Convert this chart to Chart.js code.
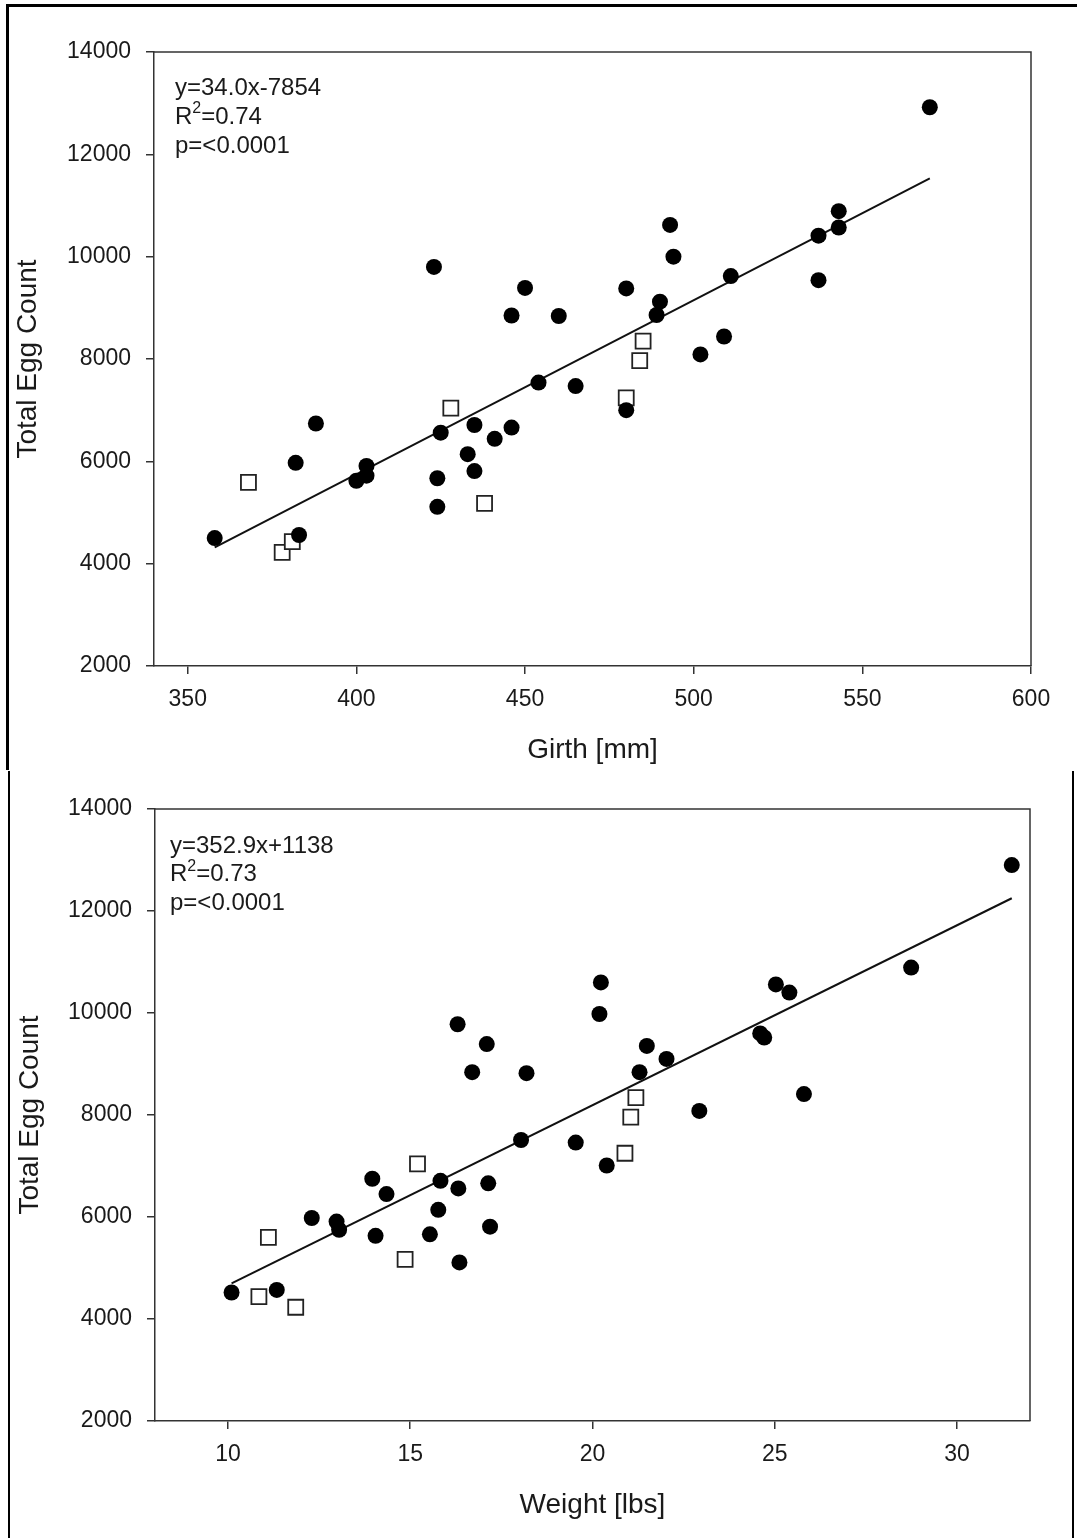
<!DOCTYPE html>
<html><head><meta charset="utf-8">
<script src="https://cdn.jsdelivr.net/npm/chart.js@4.4.1/dist/chart.umd.min.js"></script>
<style>
html,body{margin:0;padding:0;background:#fff;width:1077px;height:1538px;overflow:hidden;}
canvas{position:absolute;left:0;}
#c1{top:0;}
#c2{top:770px;}
.f1{position:absolute;left:6px;top:4px;width:1100px;height:763px;border-top:3px solid #000;border-left:3px solid #000;}
.f2{position:absolute;left:8px;top:771px;width:1062px;height:800px;border-left:2px solid #000;border-right:2px solid #000;}
</style></head>
<body>
<div class="f1"></div><div class="f2"></div>
<canvas id="c1" width="1077" height="770"></canvas>
<canvas id="c2" width="1077" height="768"></canvas>
<script>
// ---- data ----
const eggTicks = [2000,4000,6000,8000,10000,12000,14000];
const girthTicks = [350,400,450,500,550,600];
const weightTicks = [10,15,20,25,30];

const girthFilled     = [358,383,382,388,400,403,403,423,425,424,424,435,441,446,433,435,446,450,460,454,465,480,480,493,494,490,489,502,509,511,570,543,543,537,537];
const girthFilledEggs = [4500,4560,5970,6740,5620,5910,5720,9800,6560,5670,5110,6710,6440,6660,6140,5810,8850,9390,8840,7540,7470,9380,7000,10620,10000,9120,8860,8090,8440,9620,12920,10890,10570,10410,9540];
const girthOpen       = [378,381,368,428,438,480,484,485];
const girthOpenEggs   = [4220,4430,5590,7040,5180,7240,7970,8350];
const girthFitX       = [358,570];
const girthFitY       = [4320,11530];

const weightFilled     = [10.1,11.34,12.3,12.98,13.05,13.96,14.35,14.05,15.83,15.77,15.54,16.32,17.14,17.19,16.35,16.3,17.1,16.7,18.19,18.04,19.54,20.39,20.23,20.19,21.49,22.03,21.29,22.93,31.5,28.74,25.03,25.4,24.6,24.71,25.8];
const weightFilledEggs = [4520,4570,5980,5910,5750,6750,6450,5630,6710,6140,5660,6560,6660,5810,5110,9780,9390,8840,8820,7510,7460,7010,10600,9980,9355,9100,8840,8080,12900,10890,10560,10400,9600,9520,8410];
const weightOpen       = [10.85,11.86,11.11,14.86,15.2,20.89,21.05,21.19];
const weightOpenEggs   = [4440,4230,5600,5170,7040,7250,7960,8340];
const weightFitX       = [10.1,31.5];
const weightFitY       = [4700,12250];

// ---- helpers ----
const FONT = '"Liberation Sans", Arial, sans-serif';
const TXT = '#1a1a1a';
const AX = '#333';
const pts = (xs, ys) => xs.map((x, i) => ({x: x, y: ys[i]}));

function annotPlugin(lines, dx, dy, gap) {
  return {
    id: 'annot',
    afterDraw(chart) {
      const ctx = chart.ctx, a = chart.chartArea, f = 24;
      ctx.save();
      ctx.strokeStyle = AX; ctx.lineWidth = 1.5;
      ctx.beginPath();
      ctx.moveTo(a.left, a.top); ctx.lineTo(a.right, a.top); ctx.lineTo(a.right, a.bottom);
      ctx.stroke();
      ctx.fillStyle = TXT; ctx.textBaseline = 'middle'; ctx.textAlign = 'left';
      lines.forEach((ln, i) => {
        let x = a.left + dx; const y = a.top + dy + i * gap;
        ln.forEach(p => {
          if (p.sup) {
            ctx.font = Math.round(f * 0.66) + 'px ' + FONT;
            ctx.fillText(p.t, x, y - f * 0.33);
          } else {
            ctx.font = f + 'px ' + FONT;
            ctx.fillText(p.t, x, y);
          }
          x += ctx.measureText(p.t).width;
        });
      });
      ctx.restore();
    }
  };
}

function makeChart(id, cfg) {
  return new Chart(document.getElementById(id), {
    type: 'scatter',
    data: {
      datasets: [
        {data: pts(cfg.fx, cfg.fy), pointStyle: 'circle', pointRadius: 8, pointBackgroundColor: '#000', pointBorderColor: '#000', pointBorderWidth: 0},
        {data: pts(cfg.ox, cfg.oy), pointStyle: 'rect', pointRadius: 10.6, pointBackgroundColor: '#fff', pointBorderColor: '#222', pointBorderWidth: 1.8},
        {type: 'line', data: pts(cfg.lx, cfg.ly), showLine: true, pointRadius: 0, borderColor: '#111', borderWidth: 2, fill: false}
      ]
    },
    options: {
      responsive: false, animation: false, devicePixelRatio: 1,
      layout: {padding: cfg.pad},
      plugins: {legend: {display: false}, tooltip: {enabled: false}},
      scales: {
        x: {
          type: 'linear', min: cfg.xmin, max: cfg.xmax,
          afterBuildTicks: s => { s.ticks = cfg.xticks.map(v => ({value: v})); },
          afterFit: s => { s.height = cfg.xh; },
          ticks: {font: {size: 23, family: FONT}, color: TXT, padding: 12, maxRotation: 0, callback: v => String(v)},
          grid: {drawOnChartArea: false, drawTicks: true, tickLength: 8, color: AX, lineWidth: 1.5},
          border: {display: true, color: AX, width: 1.5},
          title: {display: true, text: cfg.xtitle, font: {size: 28, family: FONT}, color: TXT, padding: {top: 0, bottom: cfg.xtp}}
        },
        y: {
          type: 'linear', min: 2000, max: 14000,
          afterBuildTicks: s => { s.ticks = eggTicks.map(v => ({value: v})); },
          afterFit: s => { s.width = cfg.yw; },
          ticks: {font: {size: 23, family: FONT}, color: TXT, padding: 15, callback: v => String(v)},
          grid: {drawOnChartArea: false, drawTicks: true, tickLength: 8, color: AX, lineWidth: 1.5},
          border: {display: true, color: AX, width: 1.5},
          title: {display: true, text: 'Total Egg Count', font: {size: 28, family: FONT}, color: TXT, padding: {top: cfg.ytp, bottom: 0}}
        }
      }
    },
    plugins: [annotPlugin(cfg.lines, cfg.adx, cfg.ady, cfg.agap)]
  });
}

makeChart('c1', {
  fx: girthFilled, fy: girthFilledEggs, ox: girthOpen, oy: girthOpenEggs, lx: girthFitX, ly: girthFitY,
  xmin: 340, xmax: 600, xticks: girthTicks, xtitle: 'Girth [mm]',
  pad: {left: 0, right: 46, top: 52, bottom: 0}, xh: 104, yw: 154, xtp: 3, ytp: 11,
  lines: [[{t: 'y=34.0x-7854'}], [{t: 'R'}, {t: '2', sup: true}, {t: '=0.74'}], [{t: 'p=<0.0001'}]],
  adx: 21, ady: 36, agap: 29
});

makeChart('c2', {
  fx: weightFilled, fy: weightFilledEggs, ox: weightOpen, oy: weightOpenEggs, lx: weightFitX, ly: weightFitY,
  xmin: 8, xmax: 32, xticks: weightTicks, xtitle: 'Weight [lbs]',
  pad: {left: 0, right: 47, top: 39, bottom: 0}, xh: 117, yw: 155, xtp: 16, ytp: 13,
  lines: [[{t: 'y=352.9x+1138'}], [{t: 'R'}, {t: '2', sup: true}, {t: '=0.73'}], [{t: 'p=<0.0001'}]],
  adx: 15, ady: 37, agap: 28.5
});
</script>
</body></html>
